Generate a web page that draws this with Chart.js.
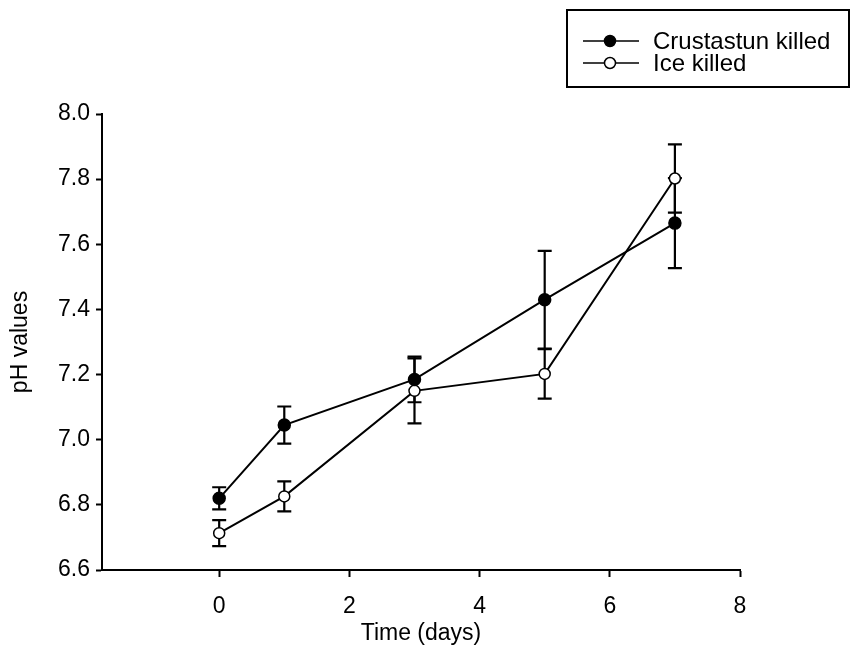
<!DOCTYPE html>
<html>
<head>
<meta charset="utf-8">
<script src="https://cdn.jsdelivr.net/npm/chart.js@4.4.1/dist/chart.umd.min.js"></script>
<style>
    body { margin: 0; background: #fff; }
    #wrap { width: 851px; height: 650px; position: relative; }
</style>
</head>
<body>
<div id="wrap"><canvas id="grafico"></canvas></div>
<script>
// ===== DADOS =====
const dias           = [0, 1, 3, 5, 7];
const crustastun     = [6.82, 7.045, 7.185, 7.43, 7.665];
const crustastunErro = [0.034, 0.057, 0.07, 0.15, 0.138];
const gelo           = [6.713, 6.826, 7.15, 7.202, 7.802];
const geloErro       = [0.04, 0.046, 0.1, 0.076, 0.105];

const xTicks = [0, 2, 4, 6, 8];
const yTicks = [6.6, 6.8, 7.0, 7.2, 7.4, 7.6, 7.8, 8.0];
const nomes  = ['Crustastun killed', 'Ice killed'];

const FONTE = 'Arial, "Liberation Sans", sans-serif';

// ===== PLUGIN — barras de erro =====
const barrasErro = {
    id: 'barrasErro',
    beforeDatasetsDraw(chart) {
        const ctx = chart.ctx;
        const xs = chart.scales.x, ys = chart.scales.y;
        ctx.save();
        ctx.strokeStyle = '#000';
        ctx.lineWidth = 2.2;
        chart.data.datasets.forEach(ds => {
            ds.data.forEach((p, i) => {
                const e  = ds.erros[i];
                const px = xs.getPixelForValue(p.x);
                const y1 = ys.getPixelForValue(p.y + e);
                const y2 = ys.getPixelForValue(p.y - e);
                ctx.beginPath();
                ctx.moveTo(px, y1); ctx.lineTo(px, y2);
                ctx.moveTo(px - 7, y1); ctx.lineTo(px + 7, y1);
                ctx.moveTo(px - 7, y2); ctx.lineTo(px + 7, y2);
                ctx.stroke();
            });
        });
        ctx.restore();
    }
};

// ===== PLUGIN — legenda =====
const legenda = {
    id: 'legenda',
    afterDraw(chart) {
        const ctx = chart.ctx;
        ctx.save();
        ctx.strokeStyle = '#000';
        ctx.lineWidth = 2;
        ctx.strokeRect(567, 10, 282, 77);
        ctx.font = '24px ' + FONTE;
        ctx.textBaseline = 'middle';
        ctx.fillStyle = '#000';
        chart.data.datasets.forEach((ds, i) => {
            const y = 41 + i * 22;
            ctx.lineWidth = 1.6;
            ctx.beginPath(); ctx.moveTo(583, y); ctx.lineTo(639, y); ctx.stroke();
            ctx.beginPath(); ctx.arc(610, y, 5.5, 0, Math.PI * 2);
            ctx.fillStyle = ds.pointBackgroundColor; ctx.fill();
            ctx.lineWidth = 1.5; ctx.stroke();
            ctx.fillStyle = '#000';
            ctx.fillText(ds.label, 653, y + 1);
        });
        ctx.restore();
    }
};

// ===== GRÁFICO =====
function serie(valores) {
    return dias.map((d, i) => ({ x: d, y: valores[i] }));
}

new Chart(document.getElementById('grafico'), {
    type: 'line',
    data: {
        datasets: [{
            label:                nomes[0],
            data:                 serie(crustastun),
            erros:                crustastunErro,
            borderColor:          '#000',
            borderWidth:          2,
            pointRadius:          6,
            pointBackgroundColor: '#000',
            pointBorderColor:     '#000',
            pointBorderWidth:     1.5,
            tension:              0,
        }, {
            label:                nomes[1],
            data:                 serie(gelo),
            erros:                geloErro,
            borderColor:          '#000',
            borderWidth:          2,
            pointRadius:          5.5,
            pointBackgroundColor: '#fff',
            pointBorderColor:     '#000',
            pointBorderWidth:     1.5,
            tension:              0,
        }]
    },
    options: {
        responsive: true,
        maintainAspectRatio: false,
        animation: false,
        layout: { padding: { left: 0, right: 111, top: 114, bottom: 0 } },
        plugins: { legend: { display: false }, tooltip: { enabled: false } },
        scales: {
            x: {
                type: 'linear',
                min: -1.8,
                max: 8,
                afterBuildTicks: ax => { ax.ticks = xTicks.map(v => ({ value: v })); },
                afterFit: ax => { ax.height = 80; },
                grid: { drawOnChartArea: false, tickLength: 7, tickColor: '#000', tickWidth: 2 },
                border: { color: '#000', width: 2 },
                ticks: { color: '#000', padding: 16, font: { family: FONTE, size: 23 } },
                title: {
                    display: true, text: 'Time (days)', color: '#000',
                    padding: { top: 0, bottom: 3 },
                    font: { family: FONTE, size: 23 }
                }
            },
            y: {
                min: 6.6,
                max: 8.0,
                afterBuildTicks: ax => { ax.ticks = yTicks.map(v => ({ value: v })); },
                afterFit: ax => { ax.width = 102; },
                grid: { drawOnChartArea: false, tickLength: 6, tickColor: '#000', tickWidth: 2 },
                border: { color: '#000', width: 2 },
                ticks: {
                    color: '#000', padding: 6,
                    font: { family: FONTE, size: 23 },
                    callback: v => v.toFixed(1)
                },
                title: {
                    display: true, text: 'pH values', color: '#000',
                    padding: { top: 7, bottom: 0 },
                    font: { family: FONTE, size: 23 }
                }
            }
        }
    },
    plugins: [barrasErro, legenda]
});
</script>
</body>
</html>
